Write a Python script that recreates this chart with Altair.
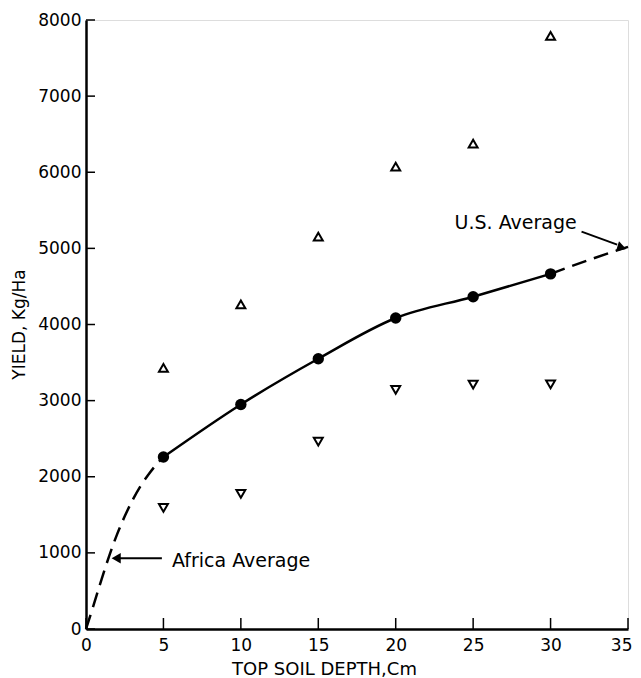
import altair as alt
import pandas as pd

# --- data ---
depth = [5, 10, 15, 20, 25, 30]
mean_yield = [2260, 2950, 3550, 4085, 4365, 4665]
high_yield = [3430, 4265, 5155, 6075, 6375, 7790]
low_yield = [1590, 1775, 2460, 3140, 3210, 3215]

low_curve_x = [0, 0.5, 1, 1.5, 2, 2.5, 3, 3.5, 4, 4.5, 5]
low_curve_y = [0, 320, 650, 960, 1240, 1480, 1690, 1870, 2020, 2150, 2260]
high_curve_x = [30, 32.5, 35]
high_curve_y = [4665, 4850, 5020]

x_ticks = [0, 5, 10, 15, 20, 25, 30, 35]
y_ticks = [0, 1000, 2000, 3000, 4000, 5000, 6000, 7000, 8000]

# annotations (data coordinates)
ann_text = ["Africa Average", "U.S. Average"]
ann_x = [5.55, 23.8]
ann_y = [895, 5335]
arrow_x = [4.9, 32.0]
arrow_y = [930, 5220]
arrow_x2 = [2.1, 34.3]
arrow_y2 = [930, 5050]
head_x = [1.95, 34.6]
head_y = [930, 5010]
head_shape = ["triangle-left", "triangle-right"]
head_angle = [0, 17]

FONT = "DejaVu Sans"
W, H = 542, 609

xs = alt.Scale(domain=[0, 35], nice=False, zero=False)
ys = alt.Scale(domain=[0, 8000], nice=False)

pts = pd.DataFrame({"x": depth, "mean": mean_yield, "hi": high_yield, "lo": low_yield})
low_df = pd.DataFrame({"x": low_curve_x, "y": low_curve_y})
high_df = pd.DataFrame({"x": high_curve_x, "y": high_curve_y})
ann_df = pd.DataFrame({"t": ann_text, "x": ann_x, "y": ann_y})
arr_df = pd.DataFrame({"x": arrow_x, "y": arrow_y, "x2": arrow_x2, "y2": arrow_y2})
head_df = pd.DataFrame({"x": head_x, "y": head_y, "shape": head_shape, "angle": head_angle})
xt_df = pd.DataFrame({"v": x_ticks})
yt_df = pd.DataFrame({"v": y_ticks})

xaxis = alt.Axis(values=x_ticks, format="d", title="TOP SOIL DEPTH,Cm", grid=False, tickSize=0,
                 labelPadding=8, labelFontSize=17, labelFont=FONT, labelColor="black",
                 labelAlign={"condition": {"test": "datum.value == 35", "value": "right"},
                             "value": "center"},
                 labelOffset={"condition": {"test": "datum.value == 35", "value": 4},
                              "value": 0},
                 titleFont=FONT, titleFontSize=18, titleFontWeight="normal", titleColor="black",
                 titleX=238, titleY=45, titleAlign="center", titleBaseline="alphabetic",
                 domainColor="black", domainWidth=2.5, labelFlush=False)
yaxis = alt.Axis(values=y_ticks, format="d", title="YIELD, Kg/Ha", grid=False, tickSize=0,
                 labelPadding=5, labelFontSize=17, labelFont=FONT, labelColor="black",
                 titleFont=FONT, titleFontSize=17, titleFontWeight="normal", titleColor="black",
                 titleX=-67, titleY=304, titleAngle=-90, titleAlign="center", titleBaseline="middle",
                 domainColor="black", domainWidth=2.5, labelFlush=False)

base = alt.Chart(pts)

mid_line = base.mark_line(color="black", strokeWidth=2.5, interpolate="monotone").encode(
    x=alt.X("x:Q", scale=xs, axis=xaxis), y=alt.Y("mean:Q", scale=ys, axis=yaxis))
low_line = alt.Chart(low_df).mark_line(color="black", strokeWidth=2.5, strokeDash=[15, 8],
                                       interpolate="monotone").encode(
    x=alt.X("x:Q", scale=xs), y=alt.Y("y:Q", scale=ys))
high_line = alt.Chart(high_df).mark_line(color="black", strokeWidth=2.5, strokeDash=[15, 8],
                                         interpolate="monotone").encode(
    x=alt.X("x:Q", scale=xs), y=alt.Y("y:Q", scale=ys))

mean_pts = base.mark_point(shape="circle", filled=True, color="black", size=130, opacity=1).encode(
    x=alt.X("x:Q", scale=xs), y=alt.Y("mean:Q", scale=ys))
hi_pts = base.mark_point(shape="triangle-up", filled=False, color="black", strokeWidth=2,
                         size=80, opacity=1).encode(
    x=alt.X("x:Q", scale=xs), y=alt.Y("hi:Q", scale=ys))
lo_pts = base.mark_point(shape="triangle-down", filled=False, color="black", strokeWidth=2,
                         size=80, opacity=1).encode(
    x=alt.X("x:Q", scale=xs), y=alt.Y("lo:Q", scale=ys))

ytick_rules = alt.Chart(yt_df).mark_rule(color="black", strokeWidth=1.5).encode(
    y=alt.Y("v:Q", scale=ys), x=alt.value(0), x2=alt.value(9))
xtick_rules = alt.Chart(xt_df).mark_rule(color="black", strokeWidth=1.5).encode(
    x=alt.X("v:Q", scale=xs), y=alt.value(H), y2=alt.value(H - 11))

ann = alt.Chart(ann_df).mark_text(font=FONT, fontSize=19, align="left", baseline="middle",
                                  color="black").encode(
    x=alt.X("x:Q", scale=xs), y=alt.Y("y:Q", scale=ys), text="t:N")
arrows = alt.Chart(arr_df).mark_rule(color="black", strokeWidth=2).encode(
    x=alt.X("x:Q", scale=xs), y=alt.Y("y:Q", scale=ys), x2="x2:Q", y2="y2:Q")
heads = alt.Chart(head_df).mark_point(filled=True, color="black", size=110, opacity=1).encode(
    x=alt.X("x:Q", scale=xs), y=alt.Y("y:Q", scale=ys),
    shape=alt.Shape("shape:N", scale=None), angle=alt.Angle("angle:Q", scale=None))

chart = alt.layer(mid_line, low_line, high_line, ytick_rules, xtick_rules,
                  mean_pts, hi_pts, lo_pts, arrows, heads, ann).properties(
    width=W, height=H,
    autosize=alt.AutoSizeParams(type="none"),
    padding={"left": 78, "top": 12, "right": 5, "bottom": 48},
).configure_view(stroke=None).configure(background="white")

chart.save("out.html", embed_options={"renderer": "svg", "actions": False})
